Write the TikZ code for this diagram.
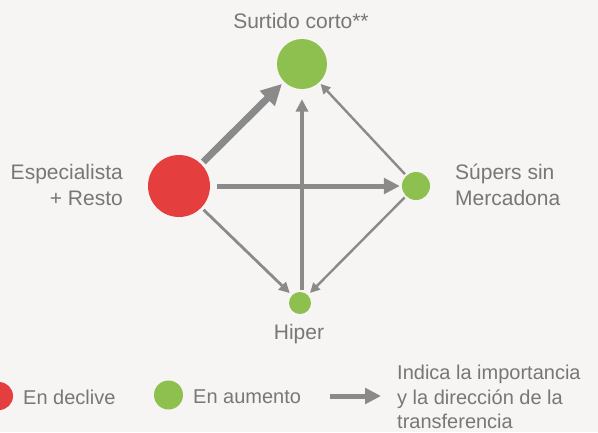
\documentclass[tikz,border=0pt]{standalone}
\usepackage{fontspec}
\setmainfont{Liberation Sans}
\usetikzlibrary{arrows.meta}
\definecolor{bg}{HTML}{F6F5F4}
\definecolor{txt}{HTML}{777777}
\definecolor{arr}{HTML}{8A8A8A}
\definecolor{redc}{HTML}{E53E3E}
\definecolor{greenc}{HTML}{8DC04E}
\tikzset{
  lbl/.style={text=txt, font=\fontsize{21}{26}\selectfont, inner sep=0pt},
  leg/.style={text=txt, font=\fontsize{20}{24.5}\selectfont, inner sep=0pt},
  redball/.style={circle, fill=redc, draw=none, inner sep=0pt},
  greenball/.style={circle, fill=greenc, draw=none, inner sep=0pt},
  conn/.style={draw=arr, line width=#1, -{Triangle[length=2.4*#1+4pt, width=2.3*#1+4pt]}},
}
\begin{document}
\begin{tikzpicture}[x=1pt,y=-1pt]
\fill[bg] (0,0) rectangle (598,432);
\useasboundingbox (0,0) rectangle (598,432);
% nodes
\node[greenball, minimum size=50pt] (sc) at (302,64) {};
\node[redball, minimum size=62pt] (es) at (179,186) {};
\node[greenball, minimum size=28pt] (su) at (416,186) {};
\node[greenball, minimum size=22pt] (hi) at (300,303) {};
% labels
\node[lbl] (lsc) at (301,21) {Surtido corto**};
\node[lbl, align=right, anchor=east] (les) at (123,185) {Especialista\\+ Resto};
\node[lbl, align=left, anchor=west] (lsu) at (455,185) {Súpers sin\\Mercadona};
\node[lbl] (lhi) at (299,334) {Hiper};
% connectors
\draw[conn=7pt, shorten <=3pt, shorten >=3pt] (es) -- (sc);
\draw[conn=5pt, shorten <=7pt, shorten >=2pt] (es) -- (su);
\draw[conn=2.8pt, shorten <=3pt, shorten >=3pt] (es) -- (hi);
\draw[conn=3.5pt, shorten <=2pt, shorten >=10pt] (hi.north -| sc.south) -- (sc.south);
\draw[conn=2.4pt, shorten <=2pt, shorten >=2pt] (su) -- (sc);
\draw[conn=2.4pt, shorten <=2pt, shorten >=3pt] (su) -- (hi);
% legend
\node[redball, minimum size=28pt] (lr) at (-1,396) {};
\node[leg, anchor=west] (tr) at (23,397) {En declive};
\node[greenball, minimum size=29pt] (lg) at (168.5,395) {};
\node[leg, anchor=west] (tg) at (193,397) {En aumento};
\coordinate (la1) at (330,396);
\coordinate (la2) at (381,396);
\draw[conn=5pt] (la1) -- (la2);
\node[leg, align=left, anchor=west] (ta) at (397,397) {Indica la importancia\\y la dirección de la\\transferencia};
\end{tikzpicture}
\end{document}
